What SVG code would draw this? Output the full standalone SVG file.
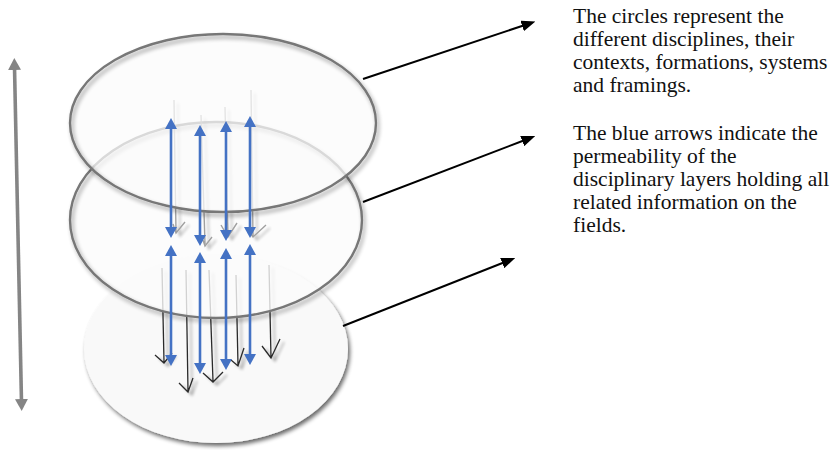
<svg xmlns="http://www.w3.org/2000/svg" width="831" height="450" viewBox="0 0 831 450">
  <style>
    .note { font-family: "Liberation Serif", "Times New Roman", serif; font-size: 21.5px; fill: #111; }
    .disc-fill { fill: #fbfbfb; }
    .rim { fill: none; stroke: #777; stroke-width: 2.4; }
    .blue { stroke: #4472c4; stroke-width: 2.6; fill: none; marker-start: url(#blueHead); marker-end: url(#blueHead); }
    .thin { stroke: #2a2a2a; stroke-width: 1.3; fill: none; stroke-linejoin: miter; }
    .thin-grey { stroke: #8a8a8a; stroke-width: 1.4; fill: none; }
    .pointer { stroke: #000; stroke-width: 2; fill: none; marker-end: url(#blackHead); }
  </style>
  <defs>
    <marker id="blueHead" markerUnits="userSpaceOnUse" viewBox="0 0 11 12" markerWidth="11" markerHeight="12" refX="3" refY="6" orient="auto-start-reverse">
      <path d="M0,0 L11,6 L0,12 Z" fill="#4472c4"/>
    </marker>
    <marker id="greyHead" markerUnits="userSpaceOnUse" viewBox="0 0 12 13" markerWidth="12" markerHeight="13" refX="3" refY="6.5" orient="auto-start-reverse">
      <path d="M0,0 L12,6.5 L0,13 Z" fill="#858585"/>
    </marker>
    <marker id="blackHead" markerUnits="userSpaceOnUse" viewBox="0 0 14 11" markerWidth="14" markerHeight="11" refX="3" refY="5.5" orient="auto">
      <path d="M0,0 L14,5.5 L0,11 Z" fill="#000"/>
    </marker>
    <filter id="discShadow" x="-10%" y="-10%" width="125%" height="130%">
      <feGaussianBlur in="SourceAlpha" stdDeviation="2"/>
      <feOffset dx="2" dy="3"/>
      <feComponentTransfer><feFuncA type="linear" slope="0.6"/></feComponentTransfer>
      <feMerge><feMergeNode/><feMergeNode in="SourceGraphic"/></feMerge>
    </filter>
    <filter id="rimShadow" x="-10%" y="-10%" width="125%" height="130%">
      <feGaussianBlur in="SourceAlpha" stdDeviation="2"/>
      <feOffset dx="1.5" dy="3"/>
      <feComponentTransfer><feFuncA type="linear" slope="0.4"/></feComponentTransfer>
      <feMerge><feMergeNode/><feMergeNode in="SourceGraphic"/></feMerge>
    </filter>
    <filter id="lineShadow" x="-50%" y="-10%" width="250%" height="130%">
      <feGaussianBlur in="SourceAlpha" stdDeviation="1.8"/>
      <feOffset dx="4" dy="3"/>
      <feComponentTransfer><feFuncA type="linear" slope="0.35"/></feComponentTransfer>
      <feMerge><feMergeNode/><feMergeNode in="SourceGraphic"/></feMerge>
    </filter>
  </defs>

  <!-- vertical scale arrow on the left -->
  <g id="scale-arrow">
    <line x1="14.5" y1="67" x2="21.5" y2="402" stroke="#858585" stroke-width="3.6" marker-start="url(#greyHead)" marker-end="url(#greyHead)"/>
  </g>

  <!-- bottom layer -->
  <g id="layer-bottom">
    <ellipse cx="216" cy="349" rx="132" ry="94" fill="#f9f9f9" filter="url(#discShadow)"/>
    <g filter="url(#lineShadow)">
      <path class="thin" d="M162,268 L164,362 M155,355 L164,363 L172,353"/>
      <path class="thin" d="M186,270 L188,391 M179,383 L188,392 L193,378"/>
      <path class="thin" d="M209,270 L213,381 M203,373 L213,382 L223,372"/>
      <path class="thin" d="M236,275 L238,365 M231,360 L238,366 L244,348"/>
      <path class="thin" d="M269,265 L271,358 M262,346 L271,358 L280,339"/>
    </g>
  </g>

  <!-- middle layer -->
  <g id="layer-middle">
    <ellipse class="disc-fill" cx="216" cy="220" rx="146" ry="98" fill-opacity="0.8"/>
    <ellipse class="rim" cx="216" cy="220" rx="146" ry="98" filter="url(#rimShadow)"/>
    <g filter="url(#lineShadow)" opacity="0.8">
      <path class="thin-grey" d="M174,100 L176,232 M173,224 L176,233 L185,222"/>
      <path class="thin-grey" d="M201,115 L205,244 M203,240 L205,246 L212,237"/>
      <path class="thin-grey" d="M225,107 L228,236 M221,225 L228,237 L237,223"/>
      <path class="thin-grey" d="M251,90 L253,236 M246,228 L253,237 L266,225"/>
    </g>
  </g>

  <!-- top layer -->
  <g id="layer-top">
    <ellipse class="disc-fill" cx="223" cy="123" rx="153" ry="89" fill-opacity="0.74"/>
    <ellipse class="rim" cx="223" cy="123" rx="153" ry="89" filter="url(#rimShadow)"/>
  </g>

  <!-- blue permeability arrows -->
  <g id="permeability-arrows">
    <line class="blue" x1="171" y1="126" x2="171" y2="230"/>
    <line class="blue" x1="200" y1="133" x2="200" y2="238"/>
    <line class="blue" x1="226" y1="129" x2="226" y2="233"/>
    <line class="blue" x1="250" y1="124" x2="250" y2="230"/>
    <line class="blue" x1="171" y1="253" x2="171" y2="358"/>
    <line class="blue" x1="200" y1="260" x2="200" y2="366"/>
    <line class="blue" x1="226" y1="256" x2="226" y2="362"/>
    <line class="blue" x1="250" y1="252" x2="250" y2="357"/>
  </g>

  <!-- pointers to the notes -->
  <g id="connectors">
    <line class="pointer" x1="363" y1="79" x2="525" y2="25"/>
    <line class="pointer" x1="363" y1="202" x2="525" y2="140"/>
    <line class="pointer" x1="343" y1="326" x2="505" y2="262"/>
  </g>

  <!-- notes -->
  <g id="note-circles">
    <text class="note" x="573" y="23">The circles represent the</text>
    <text class="note" x="573" y="46">different disciplines, their</text>
    <text class="note" x="573" y="69">contexts, formations, systems</text>
    <text class="note" x="573" y="92">and framings.</text>
  </g>
  <g id="note-arrows">
    <text class="note" x="573" y="140">The blue arrows indicate the</text>
    <text class="note" x="573" y="163">permeability of the</text>
    <text class="note" x="573" y="186">disciplinary layers holding all</text>
    <text class="note" x="573" y="209">related information on the</text>
    <text class="note" x="573" y="232">fields.</text>
  </g>
</svg>
